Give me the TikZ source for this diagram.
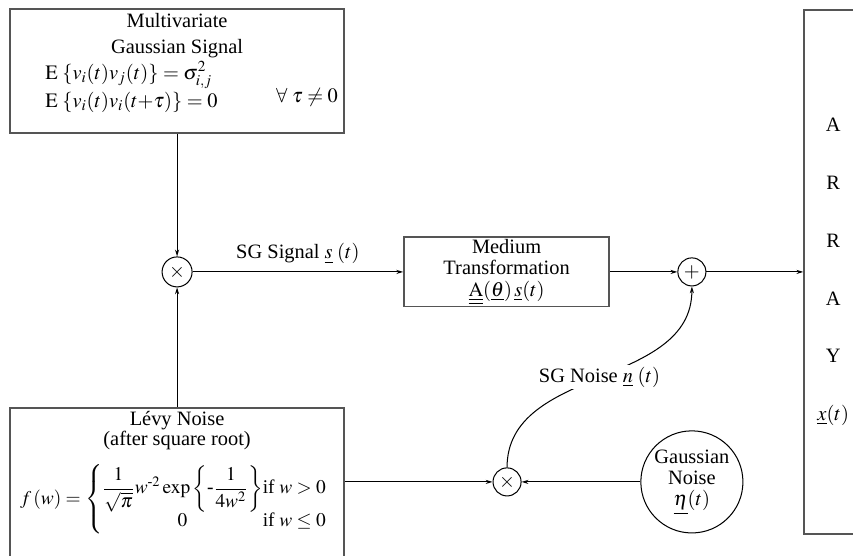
\documentclass[tikz,border=0pt]{standalone}
\usepackage{amsmath}
\usepackage{mathptmx}
\usepackage{fontspec}
\setmainfont{Liberation Serif}
\usetikzlibrary{arrows.meta,positioning,calc}
\definecolor{edgegray}{RGB}{85,85,85}

\begin{document}
\begin{tikzpicture}[font=\fontsize{12}{12.6}\selectfont,
  blk/.style={draw=edgegray,line width=1pt,inner sep=0pt},
  opnode/.style={draw,circle,line width=.6pt,minimum size=.58cm,inner sep=0pt},
  txt/.style={inner sep=0pt},
  flow/.style={-{Stealth[length=4pt,width=2.4pt]},line width=.6pt}]
\useasboundingbox (0,0) rectangle (17.63,-11.49);
\clip (0,0) rectangle (17.63,-11.49);
% multivariate gaussian source
\node[blk,minimum width=6.90cm,minimum height=2.56cm] (mvg) at (3.66,-1.47) {};
\node[txt,anchor=base] (mvgtop) at (3.66,-0.56) {Multivariate};
\node[txt,anchor=base] (mvgsub) at (3.66,-1.10) {Gaussian Signal};
\node[txt,anchor=base west] (mvgeqa) at (0.93,-1.64) {$\mathrm{E}\;\{v_i(t)v_j(t)\}=\sigma^2_{i,j}$};
\node[txt,anchor=base west] (mvgeqb) at (0.93,-2.22) {$\mathrm{E}\;\{v_i(t)v_i(t{+}\tau)\}=0$};
\node[txt,anchor=base east] (mvgcond) at (6.99,-2.12) {$\forall\;\tau\neq 0$};
% levy source
\node[blk,minimum width=6.90cm,minimum height=3.6cm,anchor=north] (levy) at (3.66,-8.41) {};
\node[txt,anchor=base] (levytop) at (3.66,-8.79) {L\'evy Noise};
\node[txt,anchor=base] (levysub) at (3.66,-9.21) {(after square root)};
\node[txt,anchor=west,font=\fontsize{11.4}{12}\selectfont] (levyeq) at (0.41,-10.32) {$f\,(w)=\left\{\begin{array}{@{}c@{}l@{}}
  \dfrac{1}{\sqrt{\pi}}w^{\text{-}2}\exp\left\{\text{-}\dfrac{1}{4w^2}\right\} & \text{if } w>0\\[1pt]
  0 & \text{if } w\le 0\end{array}\right.$};
% signal path
\node[opnode,minimum size=.62cm] (mult1) at (3.66,-5.62) {$\times$};
\node[blk,minimum width=4.24cm,minimum height=1.43cm,align=center] (med) at (10.47,-5.62)
  {Medium\\Transformation\\$\underline{\underline{\mathrm{A}}}(\underline{\theta})\,\underline{s}(t)$};
\node[opnode] (plus) at (14.30,-5.62) {$+$};
\node[blk,minimum width=1.20cm,minimum height=10.83cm,align=center,
  font=\fontsize{12}{34}\selectfont] (array) at (17.22,-5.62) {A\\R\\R\\A\\Y\\$\underline{x}(t)$};
% noise path
\node[opnode] (mult2) at (10.48,-9.96) {$\times$};
\node[draw,circle,line width=.6pt,minimum size=2.11cm,inner sep=0pt,align=center] (gauss) at (14.30,-9.96)
  {Gaussian\\Noise\\$\underline{\eta}(t)$};

\draw[flow] (mvg) -- (mult1);
\draw[flow] (levy) -- (mult1);
\draw[flow] (mult1) -- node[above=1pt] (sglabel) {SG Signal $\underline{s}\;(t)$} (med);
\draw[flow] (med) -- (plus);
\draw[flow] (plus) -- (array);
\draw[flow] (levy.east |- mult2) -- (mult2);
\draw[flow] (gauss) -- (mult2);
\draw[flow] (mult2) to[out=90,in=-90] node[fill=white,inner sep=1pt] (nlabel) {SG Noise $\underline{n}\;(t)$} (plus);
\end{tikzpicture}
\end{document}
